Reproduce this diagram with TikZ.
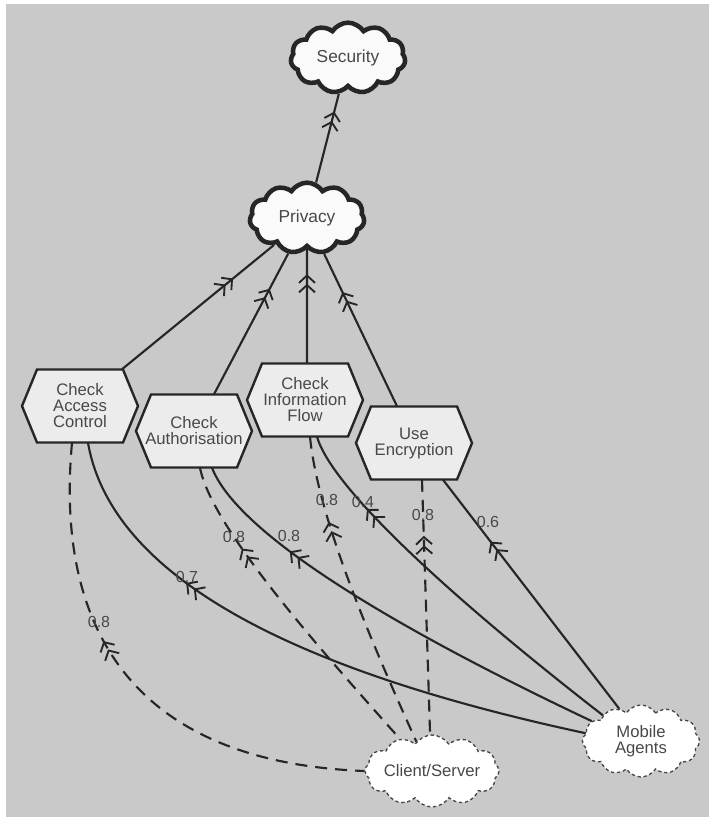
\documentclass[tikz,border=0pt]{standalone}
\usepackage{fontspec}
\setmainfont{Liberation Sans}
\usetikzlibrary{shapes.symbols,arrows.meta,decorations.markings,calc}

\definecolor{bggrey}{RGB}{201,201,201}
\definecolor{ink}{RGB}{38,38,38}
\definecolor{txt}{RGB}{72,72,72}
\definecolor{hexfill}{RGB}{236,236,236}
\definecolor{cloudfill}{RGB}{250,250,250}

\tikzset{
  softgoal/.style={cloud, cloud puffs=11, cloud puff arc=115, cloud ignores aspect,
    draw=ink, line width=3.4pt, fill=cloudfill, minimum width=86pt, minimum height=53pt,
    inner sep=0pt, font=\fontsize{13}{13}\selectfont, text=txt},
  actor/.style={cloud, cloud puffs=12, cloud puff arc=115, cloud ignores aspect,
    draw=ink!85, line width=1pt, dash pattern=on 2.5pt off 2pt, fill=white,
    minimum width=88pt, minimum height=54pt, inner sep=0pt, align=center,
    font=\fontsize{12.5}{12}\selectfont, text=txt},
  taskbox/.style={rectangle, minimum width=87pt, minimum height=54.75pt, inner sep=0pt,
    align=center, font=\fontsize{12.5}{12}\selectfont, text=txt},
  hexline/.style={draw=ink, line width=1.8pt, fill=hexfill, line join=miter},
  link/.style={draw=ink, line width=1.6pt},
  weak/.style={link, dash pattern=on 9pt off 6pt},
  tipfwd/.style={postaction={decorate}, decoration={markings, mark=at position #1 with
    {\arrow[line width=1.4pt]{Straight Barb[length=5.5pt,width=12pt] Straight Barb[length=5.5pt,width=12pt]}}}},
  tipback/.style={postaction={decorate}, decoration={markings, mark=at position #1 with
    {\arrowreversed[line width=1.4pt]{Straight Barb[length=5.5pt,width=12pt] Straight Barb[length=5.5pt,width=12pt]}}}},
  weight/.style={font=\fontsize{12}{12}\selectfont, text=txt, inner sep=0pt},
}

% hexagonal task: name, x, y, label
\newcommand\taskhex[4]{%
  \filldraw[hexline, shift={(#2,#3)}] (-58,0) -- (-43,-36.5) -- (43,-36.5) -- (58,0)
    -- (43,36.5) -- (-43,36.5) -- cycle;
  \node[taskbox] (#1) at (#2,#3) {#4};
}

\begin{document}
\begin{tikzpicture}[x=0.75pt, y=-0.75pt]
  \useasboundingbox (0,0) rectangle (709,817);
  \fill[white] (0,0) rectangle (709,817);
  \fill[bggrey] (6,4) rectangle (709,817);

  % soft goals
  \node[softgoal] (sec) at (348,58) {Security};
  \node[softgoal] (priv) at (307,218) {Privacy};

  % tasks
  \taskhex{acc}{80}{406}{Check\\Access\\Control}
  \taskhex{auth}{194}{431}{Check\\Authorisation}
  \taskhex{info}{305}{400}{Check\\Information\\Flow}
  \taskhex{enc}{414}{443}{Use\\Encryption}

  % architectures
  \node[actor] (cs) at (432,771) {Client/Server};
  \node[actor] (ma) at (641,741) {Mobile\\Agents};

  % contributions towards the soft goals
  \draw[link, tipfwd=0.8] (priv) -- (sec);
  \draw[link, tipfwd=0.73] ([xshift=31.5pt]acc.north) -- (priv);
  \draw[link, tipfwd=0.75] ([xshift=15pt]auth.north) -- (priv);
  \draw[link, tipfwd=0.78] ([xshift=1.5pt]info.north) -- (priv);
  \draw[link, tipfwd=0.75] ([xshift=-12.75pt]enc.north) -- (priv);

  % weighted links from the architectures
  \draw[weak, tipback=0.4] ([xshift=-6pt]acc.south) .. controls (55,628) and (132,762) .. (cs.west);
  \draw[link, tipback=0.29] ([xshift=6pt]acc.south) .. controls (112,580) and (300,672) .. (ma.172);
  \draw[weak, tipback=0.27] ([xshift=4.5pt]auth.south) .. controls (212,530) and (330,660) .. (cs.135);
  \draw[link, tipback=0.25] ([xshift=13.5pt]auth.south) .. controls (240,540) and (420,640) .. (ma.158);
  \draw[weak, tipback=0.27] ([xshift=3.75pt]info.south) .. controls (318,520) and (375,650) .. (cs.118);
  \draw[link, tipback=0.22] ([xshift=9pt]info.south) .. controls (334,495) and (480,620) .. (ma.146);
  \draw[weak, tipback=0.22] ([xshift=6pt]enc.south) -- (cs.93);
  \draw[link, tipback=0.27] ([xshift=21.75pt]enc.south) -- (ma.124);

  % weights
  \node[weight] (w1) at (99,622) {0.8};
  \node[weight] (w2) at (187,577) {0.7};
  \node[weight] (w3) at (234,537) {0.8};
  \node[weight] (w4) at (289,536) {0.8};
  \node[weight] (w5) at (327,500) {0.8};
  \node[weight] (w6) at (363,502) {0.4};
  \node[weight] (w7) at (423,515) {0.8};
  \node[weight] (w8) at (488,522) {0.6};
\end{tikzpicture}
\end{document}
